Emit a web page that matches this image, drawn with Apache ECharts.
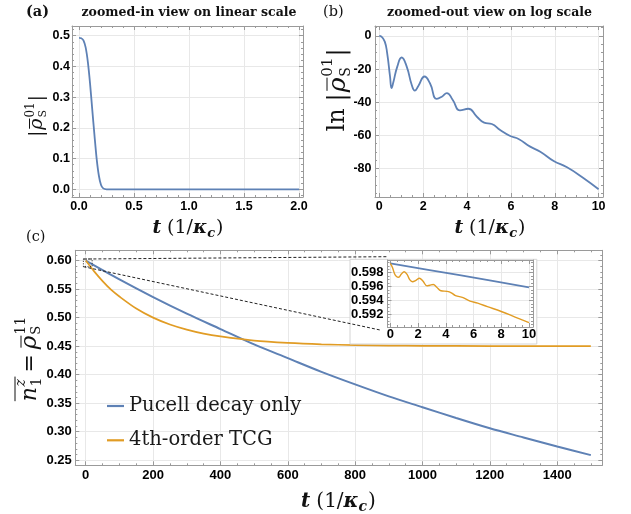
<!DOCTYPE html>
<html><head><meta charset="utf-8">
<script src="https://cdn.jsdelivr.net/npm/echarts@6/dist/echarts.min.js"></script>
<style>html,body{margin:0;padding:0;background:#fff}#c{width:631px;height:514px}</style>
</head><body><div id="c"></div>
<script>
// ---------------- data ----------------
const aT   = [0, 0.02, 0.04, 0.06, 0.08, 0.10, 0.12, 0.14, 0.16, 0.18, 0.20, 0.22, 0.25, 0.5, 1.0, 1.5, 2.0];
const aVal = [0.493, 0.492, 0.485, 0.462, 0.415, 0.345, 0.26, 0.177, 0.10, 0.045, 0.014, 0.003, 0, 0, 0, 0, 0];

const bT   = [0, 0.1, 0.25, 0.36, 0.49, 0.56, 0.64, 0.82, 1.02, 1.25, 1.48, 1.62, 1.78, 2.06, 2.31, 2.62, 2.85, 3.08, 3.35, 3.68, 4.06, 4.45, 4.78, 5.13, 5.51, 5.97, 6.35, 6.88, 7.34, 7.95, 8.56, 9.32, 10];
const bVal = [0, -0.4, -3.4, -10.5, -24.6, -31.5, -28, -18.5, -13, -18.5, -29.6, -33, -30.2, -24.5, -28.6, -38, -36.7, -34.5, -38.7, -45, -44, -48.8, -52.4, -53.2, -56.8, -60.5, -62.3, -66.9, -70, -75.6, -79.4, -86, -92.7];

const cBlueT = [0, 100, 200, 300, 400, 500, 600, 700, 800, 900, 1000, 1100, 1200, 1300, 1400, 1500];
const cBlue  = [0.600, 0.567, 0.536, 0.507, 0.480, 0.453, 0.429, 0.405, 0.383, 0.362, 0.343, 0.324, 0.306, 0.290, 0.274, 0.259];

const cOrangeT = [0, 25, 50, 75, 100, 150, 200, 250, 300, 350, 400, 500, 600, 700, 800, 900, 1000, 1200, 1500];
const cOrange  = [0.600, 0.581, 0.564, 0.549, 0.537, 0.516, 0.500, 0.488, 0.479, 0.472, 0.467, 0.4596, 0.4556, 0.4532, 0.4519, 0.4511, 0.4506, 0.4502, 0.4500];

const insetBlueT = [0, 5, 10];
const insetBlue  = [0.59936, 0.59764, 0.5959];

const insetOrangeT = [0, 0.15, 0.3, 0.45, 0.6, 0.8, 1.0, 1.2, 1.4, 1.6, 1.85, 2.1, 2.35, 2.65, 2.85, 3.1, 3.35, 3.65, 4.1, 4.4, 4.7, 5.25, 5.75, 6.3, 7.0, 8.0, 9.0, 10.0];
const insetOrange  = [0.59936, 0.5988, 0.5979, 0.59745, 0.59735, 0.5978, 0.59815, 0.5978, 0.5970, 0.5967, 0.5969, 0.5972, 0.5968, 0.5961, 0.5962, 0.5963, 0.5959, 0.5954, 0.5953, 0.5951, 0.5947, 0.5944, 0.5939, 0.5936, 0.5931, 0.5924, 0.5916, 0.5908];

// tick labels
const aXTicks = [0, 0.5, 1.0, 1.5, 2.0];
const aYTicks = [0, 0.1, 0.2, 0.3, 0.4, 0.5];
const bXTicks = [0, 2, 4, 6, 8, 10];
const bYTicks = [-80, -60, -40, -20, 0];
const cXTicks = [0, 200, 400, 600, 800, 1000, 1200, 1400];
const cYTicks = [0.25, 0.30, 0.35, 0.40, 0.45, 0.50, 0.55, 0.60];
const insetXTicks = [0, 2, 4, 6, 8, 10];
const insetYTicks = [0.592, 0.594, 0.596, 0.598];

const legendNames = ['Pucell decay only', '4th-order TCG'];
const titleA = 'zoomed-in view on linear scale';
const titleB = 'zoomed-out view on log scale';

// zoom rectangle in panel (c) (data units)
const zoomBoxT = [-7, 19];
const zoomBoxV = [0.5893, 0.6027];

// ---------------- styling ----------------
const FRAME = '#9a9a9a', GRIDC = '#e8e8e8';
const BLUE = '#5E81B5', ORANGE = '#E19C24';
const zip = (xs, ys) => xs.map((x, i) => [x, ys[i]]);

const panels = {
  a: {left: 72, top: 26, width: 231, height: 171, xr: [-0.064, 2.036], yr: [-0.025, 0.5316], xt: aXTicks, yt: aYTicks, xm: 0.1, ym: 0.02, fs: 12.5,
      fx: v => v.toFixed(1), fy: v => v.toFixed(1), mx: 3, my: 2, z: 0},
  b: {left: 375, top: 26, width: 228, height: 171, xr: [-0.196, 10.2], yr: [-97.35, 6.05], xt: bXTicks, yt: bYTicks, xm: 0.5, ym: 5, fs: 12.5,
      fx: v => String(v), fy: v => String(Math.round(v)), mx: 3, my: 3.5, z: 0},
  c: {left: 75.3, top: 250.3, width: 527, height: 215, xr: [-31, 1534], yr: [0.2412, 0.618], xt: cXTicks, yt: cYTicks, xm: 50, ym: 0.01, fs: 13,
      fx: v => String(v), fy: v => v.toFixed(2), mx: 3.2, my: 3.5, z: 0},
  i: {left: 387.5, top: 260, width: 145.5, height: 67, xr: [-0.2, 10.29], yr: [0.59016, 0.59984], xt: insetXTicks, yt: insetYTicks, xm: 0.5, ym: 0.0005, fs: 13,
      fx: v => String(v), fy: v => v.toFixed(3), mx: 1, my: 4, z: 10}
};

function minorVals(r, step, majors) {
  const out = [];
  const k0 = Math.ceil(r[0] / step - 1e-9), k1 = Math.floor(r[1] / step + 1e-9);
  for (let k = k0; k <= k1; k++) {
    const v = +(k * step).toFixed(10);
    if (!majors.some(m => Math.abs(m - v) < step * 1e-3)) out.push(v);
  }
  return out;
}

const grid = [], xAxis = [], yAxis = [], idx = {};
function addAxes(list, gi, p, dim) {
  const r = dim === 'x' ? p.xr : p.yr;
  const majors = dim === 'x' ? p.xt : p.yt;
  const step = dim === 'x' ? p.xm : p.ym;
  const pos = dim === 'x' ? ['bottom', 'top'] : ['left', 'right'];
  const minors = minorVals(r, step, majors);
  const base = {type: 'value', gridIndex: gi, min: r[0], max: r[1], z: p.z, silent: true, axisPointer: {show: false}};
  const mainIdx = list.length;
  list.push(Object.assign({}, base, {
    position: pos[0],
    axisLine: {show: true, onZero: false, lineStyle: {color: FRAME, width: 1}},
    axisTick: {show: true, inside: true, length: 4, lineStyle: {color: FRAME}, customValues: majors},
    axisLabel: {show: true, customValues: majors, formatter: dim === 'x' ? p.fx : p.fy, margin: dim === 'x' ? p.mx : p.my,
                color: '#000', fontFamily: 'Liberation Sans', fontWeight: 'bold', fontSize: p.fs},
    splitLine: {show: true, lineStyle: {color: GRIDC, width: 1}}
  }));
  list.push(Object.assign({}, base, {
    position: pos[1],
    axisLine: {show: true, onZero: false, lineStyle: {color: FRAME, width: 1}},
    axisTick: {show: true, inside: true, length: 4, lineStyle: {color: FRAME}, customValues: majors},
    axisLabel: {show: false}, splitLine: {show: false}
  }));
  pos.forEach(ps => list.push(Object.assign({}, base, {
    position: ps,
    axisLine: {show: false, onZero: false},
    axisTick: {show: true, inside: true, length: 2, lineStyle: {color: FRAME}, customValues: minors},
    axisLabel: {show: false}, splitLine: {show: false}
  })));
  return mainIdx;
}
Object.keys(panels).forEach((k, gi) => {
  const p = panels[k];
  grid.push({left: p.left, top: p.top, width: p.width, height: p.height, containLabel: false, z: p.z});
  idx[k] = {x: addAxes(xAxis, gi, p, 'x'), y: addAxes(yAxis, gi, p, 'y')};
});

function lineSeries(k, data, color, width, smooth, extra) {
  return Object.assign({
    type: 'line', xAxisIndex: idx[k].x, yAxisIndex: idx[k].y, data: data,
    symbol: 'none', showSymbol: false, smooth: smooth,
    lineStyle: {color: color, width: width}, itemStyle: {color: color},
    z: panels[k].z + 2, silent: true
  }, extra || {});
}

const series = [
  lineSeries('a', zip(aT, aVal), BLUE, 1.8, 0.3),
  lineSeries('b', zip(bT, bVal), BLUE, 1.8, 0.5),
  lineSeries('c', zip(cBlueT, cBlue), BLUE, 2, 0.3, {name: legendNames[0]}),
  lineSeries('c', zip(cOrangeT, cOrange), ORANGE, 1.7, 0.3, {name: legendNames[1]}),
  lineSeries('i', zip(insetBlueT, insetBlue), BLUE, 1.8, 0.3),
  lineSeries('i', zip(insetOrangeT, insetOrange), ORANGE, 1.4, 0.4)
];

const option = {
  animation: false,
  backgroundColor: '#fff',
  grid: grid, xAxis: xAxis, yAxis: yAxis, series: series,
  legend: {
    data: legendNames, orient: 'vertical', left: 107, top: 396, padding: 0,
    icon: 'rect', itemWidth: 17, itemHeight: 2.2, itemGap: 14.3, selectedMode: false,
    textStyle: {fontFamily: 'DejaVu Serif', fontSize: 19.5, color: '#1a1a1a', lineHeight: 20, padding: [0, 0, 0, 0]}
  }
};

const chart = echarts.init(document.getElementById('c'), null, {renderer: 'canvas', width: 631, height: 514});
chart.setOption(option);

// ---------------- math-style labels ----------------
const mctx = document.createElement('canvas').getContext('2d');
function F(size, style) { return (style ? style + ' ' : '') + size + 'px "DejaVu Serif"'; }
function mw(s, font) { mctx.font = font; return mctx.measureText(s).width; }
function T(s, x, y, font) {
  return {type: 'text', x: x, y: y, style: {text: s, font: font, fill: '#111', align: 'left', verticalAlign: 'middle'}};
}
function L(x1, y1, x2, y2) {
  return {type: 'line', shape: {x1: x1, y1: y1, x2: x2, y2: y2}, style: {stroke: '#111', lineWidth: 1}};
}
function mathGroup(tokens, bars, cx, cy, rotation) {
  let x = 0; const kids = [], xs = [], xe = [];
  tokens.forEach(tk => {
    x += tk.pre || 0;
    xs.push(x);
    if (tk.sup !== undefined) {
      const w1 = mw(tk.sup, tk.supF), w2 = mw(tk.sub, tk.subF);
      kids.push(T(tk.sup, x, tk.supDy, tk.supF));
      kids.push(T(tk.sub, x, tk.subDy, tk.subF));
      x += Math.max(w1, w2);
    } else {
      kids.push(T(tk.s, x, tk.dy || 0, tk.f));
      x += mw(tk.s, tk.f);
    }
    xe.push(x);
    x += tk.post || 0;
  });
  (bars || []).forEach(b => kids.push(L(xs[b.from] + (b.l || 0), b.y, xe[b.to] + (b.r || 0), b.y)));
  return {type: 'group', x: cx, y: cy, rotation: rotation || 0, z: 20,
          children: [{type: 'group', x: -x / 2, y: 0, children: kids}]};
}

function tLabel(cx, cy, S) {
  return mathGroup([
    {s: 't', f: F(S, 'italic bold')},
    {s: '(1/', f: F(S), pre: S * 0.3},
    {s: 'κ', f: F(S, 'italic bold')},
    {s: 'c', f: F(Math.round(S * 0.68), 'italic bold'), dy: S * 0.27},
    {s: ')', f: F(S), pre: 1}
  ], [], cx, cy, 0);
}

const R = Math.PI / 2;
const labelA = mathGroup([
  {s: '|', f: F(18)},
  {s: 'ρ', f: F(19, 'italic'), pre: 1},
  {sup: '01', sub: 'S', supF: F(12), subF: F(11), supDy: -7, subDy: 6, pre: 1},
  {s: '|', f: F(18), pre: 1}
], [{from: 1, to: 1, y: -8, l: 1, r: 0}], 37.5, 116, R);

const labelB = mathGroup([
  {s: 'ln', f: F(24)},
  {s: '|', f: F(24), pre: 7},
  {s: 'ρ', f: F(25, 'italic'), pre: 1},
  {sup: '01', sub: 'S', supF: F(15), subF: F(14), supDy: -10, subDy: 8, pre: 1},
  {s: '|', f: F(24), pre: 1}
], [{from: 2, to: 2, y: -11, l: 1.5, r: 0}], 338, 90, R);

const labelC = mathGroup([
  {s: 'n', f: F(22, 'italic')},
  {sup: 'z', sub: '1', supF: F(14, 'italic'), subF: F(14), supDy: -9, subDy: 7, pre: 0.5},
  {s: '=', f: F(22), pre: 5, post: 5},
  {s: 'ρ', f: F(23, 'italic')},
  {sup: '11', sub: 'S', supF: F(14), subF: F(13), supDy: -9, subDy: 7, pre: 1}
], [{from: 0, to: 1, y: -15, l: 0, r: 1}, {from: 3, to: 3, y: -9, l: 1.5, r: 0}], 30, 359, R);

function plainText(s, x, y, font, align) {
  return {type: 'text', x: x, y: y, z: 20, style: {text: s, font: font, fill: '#111', align: align || 'left', verticalAlign: 'middle'}};
}

const pc = panels.c, pi = panels.i;
const P = (t, v) => chart.convertToPixel({xAxisIndex: idx.c.x, yAxisIndex: idx.c.y}, [t, v]);
const boxTL = P(zoomBoxT[0], zoomBoxV[1]);
const boxBR = P(zoomBoxT[1], zoomBoxV[0]);

chart.setOption({
  graphic: [
    {type: 'rect', z: 5, shape: {x: pi.left - 37.5, y: pi.top - 0.7, width: pi.width + 41.3, height: pi.height + 17.7},
     style: {fill: '#fff', stroke: '#d4d4d4', lineWidth: 1}},
    {type: 'rect', z: 6, shape: {x: boxTL[0], y: boxTL[1], width: boxBR[0] - boxTL[0], height: boxBR[1] - boxTL[1]},
     style: {fill: 'none', stroke: '#222', lineWidth: 1, lineDash: [1, 1.5]}},
    {type: 'line', z: 6, shape: {x1: boxTL[0], y1: boxTL[1], x2: pi.left, y2: pi.top - 3.3},
     style: {stroke: '#222', lineWidth: 1, lineDash: [3, 2]}},
    {type: 'line', z: 6, shape: {x1: boxTL[0], y1: boxBR[1], x2: pi.left - 7.5, y2: pi.top + pi.height + 3},
     style: {stroke: '#222', lineWidth: 1, lineDash: [3, 2]}},
    plainText('(a)', 26, 12.5, 'bold 14.5px "DejaVu Serif"'),
    plainText(titleA, 189, 12.5, 'bold 12.5px "DejaVu Serif"', 'center'),
    plainText('(b)', 323, 12.5, '14.5px "DejaVu Serif"'),
    plainText(titleB, 489.5, 12.5, 'bold 12.5px "DejaVu Serif"', 'center'),
    plainText('(c)', 26, 237, '14.5px "DejaVu Serif"'),
    tLabel(188, 228, 19),
    tLabel(490, 228, 19),
    tLabel(338.5, 502, 20),
    labelA, labelB, labelC
  ]
});
</script>
</body></html>
